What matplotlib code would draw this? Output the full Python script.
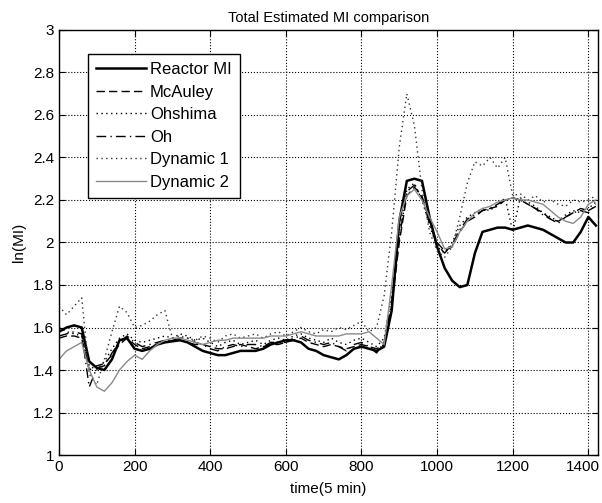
import numpy as np
import matplotlib
matplotlib.use("Agg")
import matplotlib.pyplot as plt
from matplotlib.transforms import ScaledTranslation

# time axis (5 min samples), one value every 20 samples
time = np.arange(0, 1421, 20)

reactor_mi = [1.58, 1.60, 1.61, 1.60, 1.44, 1.41, 1.40, 1.45, 1.54, 1.55,
              1.50, 1.49, 1.50, 1.52, 1.53, 1.535, 1.54, 1.53, 1.51, 1.49,
              1.48, 1.47, 1.47, 1.48, 1.49, 1.49, 1.49, 1.50, 1.52, 1.53,
              1.54, 1.54, 1.53, 1.50, 1.49, 1.47, 1.46, 1.45, 1.47, 1.50,
              1.51, 1.50, 1.49, 1.51, 1.68, 2.10, 2.29, 2.30, 2.29, 2.12,
              1.98, 1.88, 1.82, 1.79, 1.80, 1.95, 2.05, 2.06, 2.07, 2.07,
              2.06, 2.07, 2.08, 2.07, 2.06, 2.04, 2.02, 2.00, 2.00, 2.05,
              2.12, 2.08]

mcauley = [1.55, 1.56, 1.56, 1.55, 1.40, 1.42, 1.43, 1.47, 1.52, 1.55,
           1.52, 1.50, 1.51, 1.52, 1.53, 1.54, 1.54, 1.53, 1.52, 1.52,
           1.51, 1.50, 1.50, 1.51, 1.52, 1.51, 1.50, 1.51, 1.52, 1.52,
           1.53, 1.54, 1.55, 1.53, 1.52, 1.51, 1.52, 1.51, 1.50, 1.51,
           1.52, 1.51, 1.50, 1.52, 1.70, 2.00, 2.22, 2.26, 2.22, 2.10,
           2.00, 1.96, 1.98, 2.05, 2.10, 2.12, 2.15, 2.16, 2.17, 2.20,
           2.21, 2.20, 2.18, 2.16, 2.14, 2.11, 2.10, 2.12, 2.14, 2.16,
           2.15, 2.17]

ohshima = [1.60, 1.58, 1.57, 1.56, 1.42, 1.40, 1.44, 1.50, 1.55, 1.57,
           1.54, 1.53, 1.54, 1.55, 1.56, 1.55, 1.57, 1.56, 1.54, 1.55,
           1.53, 1.51, 1.53, 1.54, 1.52, 1.53, 1.54, 1.52, 1.54, 1.55,
           1.54, 1.56, 1.57, 1.55, 1.54, 1.53, 1.55, 1.53, 1.52, 1.54,
           1.55, 1.53, 1.51, 1.55, 1.75, 2.05, 2.25, 2.28, 2.20, 2.08,
           1.98, 1.95, 2.00, 2.08, 2.12, 2.14, 2.16, 2.15, 2.18, 2.21,
           2.05, 2.21, 2.19, 2.17, 2.14, 2.12, 2.10, 2.13, 2.15, 2.14,
           2.16, 2.19]

oh = [1.56, 1.57, 1.58, 1.57, 1.32, 1.41, 1.42, 1.48, 1.53, 1.56,
      1.53, 1.51, 1.52, 1.53, 1.54, 1.54, 1.55, 1.55, 1.53, 1.52,
      1.50, 1.49, 1.51, 1.52, 1.51, 1.52, 1.52, 1.51, 1.53, 1.53,
      1.53, 1.55, 1.56, 1.54, 1.53, 1.52, 1.53, 1.51, 1.49, 1.52,
      1.53, 1.51, 1.48, 1.53, 1.72, 2.02, 2.24, 2.27, 2.21, 2.09,
      1.99, 1.95, 1.99, 2.06, 2.11, 2.13, 2.15, 2.16, 2.18, 2.20,
      2.21, 2.20, 2.18, 2.16, 2.13, 2.11, 2.09, 2.12, 2.14, 2.15,
      2.14, 2.18]

dynamic_1 = [1.70, 1.66, 1.70, 1.74, 1.38, 1.33, 1.45, 1.58, 1.70, 1.67,
             1.60, 1.61, 1.63, 1.66, 1.68, 1.55, 1.56, 1.55, 1.54, 1.56,
             1.55, 1.53, 1.56, 1.57, 1.55, 1.56, 1.57, 1.55, 1.57, 1.58,
             1.56, 1.58, 1.60, 1.58, 1.57, 1.59, 1.58, 1.60, 1.59, 1.61,
             1.63, 1.58, 1.60, 1.75, 2.05, 2.45, 2.70, 2.55, 2.25, 2.05,
             1.96, 1.93, 1.98, 2.12, 2.28, 2.38, 2.36, 2.40, 2.35, 2.40,
             2.22, 2.23, 2.20, 2.22, 2.19, 2.20, 2.18, 2.17, 2.20, 2.19,
             2.20, 2.22]

dynamic_2 = [1.45, 1.49, 1.51, 1.53, 1.40, 1.32, 1.30, 1.34, 1.40, 1.44,
             1.47, 1.45, 1.49, 1.52, 1.54, 1.55, 1.55, 1.54, 1.53, 1.52,
             1.53, 1.54, 1.54, 1.55, 1.55, 1.55, 1.55, 1.55, 1.56, 1.56,
             1.56, 1.57, 1.58, 1.57, 1.56, 1.56, 1.56, 1.56, 1.57, 1.57,
             1.57, 1.58, 1.55, 1.52, 1.80, 2.12, 2.22, 2.25, 2.20, 2.12,
             2.05, 1.97, 1.98, 2.05, 2.10, 2.14, 2.16, 2.17, 2.19, 2.20,
             2.21, 2.20, 2.20, 2.19, 2.18, 2.15, 2.12, 2.10, 2.09, 2.12,
             2.18, 2.20]

plt.rcParams['font.family'] = ['Liberation Sans', 'DejaVu Sans']

fig = plt.figure(figsize=(6.02, 5.03), dpi=100)
ax = fig.add_axes([0.098, 0.0954, 0.895, 0.845])

ax.plot(time, reactor_mi, color='black', lw=1.8, ls='-', label='Reactor MI')
ax.plot(time, mcauley, color='black', lw=1.0, ls=(0, (6, 3)), label='McAuley')
ax.plot(time, ohshima, color='black', lw=1.0, ls=(0, (1, 2.5)), label='Ohshima')
ax.plot(time, oh, color='black', lw=1.0, ls=(0, (7, 3, 1, 3)), label='Oh')
ax.plot(time, dynamic_1, color='#333333', lw=1.0, ls=(0, (1, 2.5)), label='Dynamic 1')
ax.plot(time, dynamic_2, color='#8a8a8a', lw=1.0, ls='-', label='Dynamic 2')

ax.set_xlim(0, 1425)
ax.set_ylim(1, 3)
ax.set_xticks(range(0, 1401, 200))
ax.set_yticks(np.arange(1, 3.01, 0.2))
ax.set_yticklabels(['1', '1.2', '1.4', '1.6', '1.8', '2', '2.2', '2.4', '2.6', '2.8', '3'])
ax.tick_params(direction='in', top=True, right=True, labelsize=11, length=4)
ax.grid(True, color='black', ls=':', lw=0.8)
for s in ax.spines.values():
    s.set_linewidth(1.0)

# nudge the last x label so it stays inside the figure
last = ax.get_xticklabels()[-1]
last.set_transform(last.get_transform() + ScaledTranslation(-4 / 72, 0, fig.dpi_scale_trans))

ax.set_title('Total Estimated MI comparison', fontsize=10.5)
ax.set_xlabel('time(5 min)', fontsize=11, labelpad=6)
ax.set_ylabel('ln(MI)', fontsize=11, labelpad=5)

leg = ax.legend(loc='upper left', bbox_to_anchor=(0.054, 0.944), borderaxespad=0,
                fontsize=12, handlelength=3.0, handletextpad=0.2, labelspacing=0.45,
                borderpad=0.5, fancybox=False, framealpha=1, edgecolor='black')
leg.get_frame().set_linewidth(1.0)

fig.savefig('out.png', dpi=100)
